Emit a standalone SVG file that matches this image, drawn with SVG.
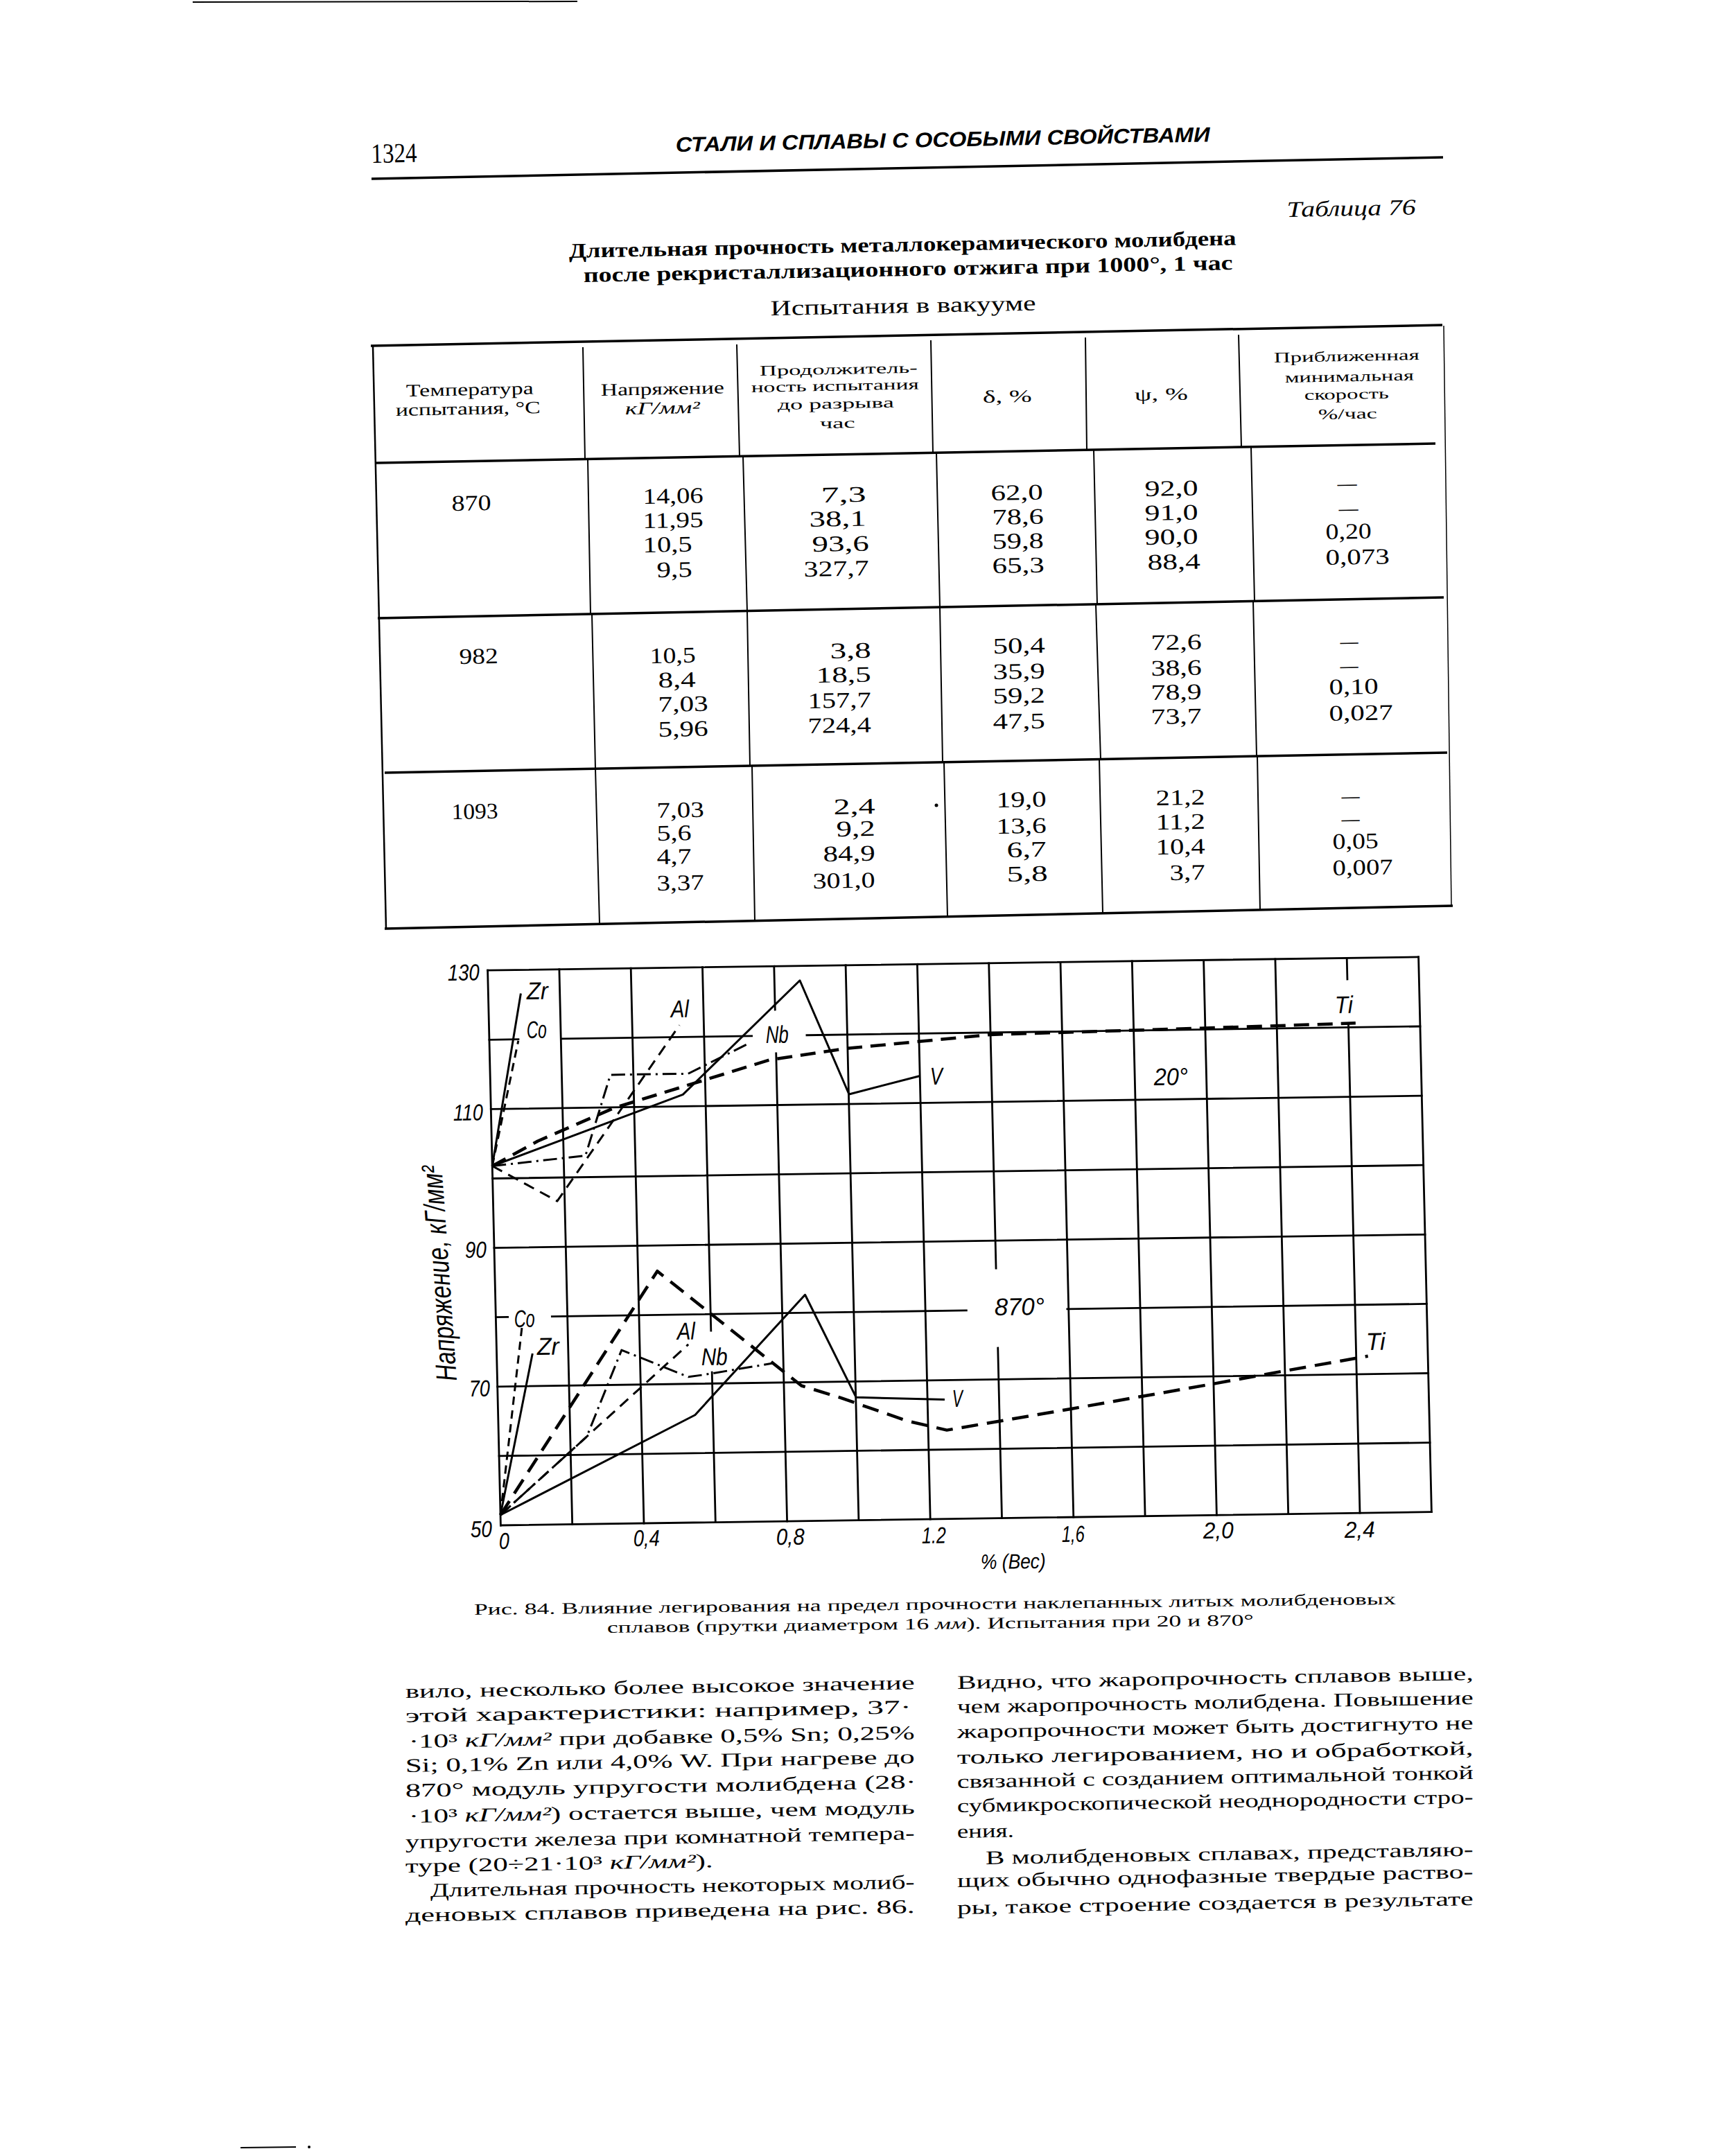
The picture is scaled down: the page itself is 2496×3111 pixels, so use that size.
<svg xmlns="http://www.w3.org/2000/svg" width="2496" height="3111" viewBox="0 0 2496 3111">
<style>
.se{font-family:"Liberation Serif","DejaVu Serif",serif;fill:#000}
.sa{font-family:"Liberation Sans","DejaVu Sans",sans-serif;fill:#000}
.it{font-style:italic}
.bd{font-weight:bold}
.r11{transform-box:fill-box;transform-origin:0% 100%;transform:rotate(-1.1deg)}
.r10{transform-box:fill-box;transform-origin:0% 100%;transform:rotate(-1deg)}
.r08{transform-box:fill-box;transform-origin:0% 100%;transform:rotate(-0.82deg)}
.r07{transform-box:fill-box;transform-origin:0% 100%;transform:rotate(-0.65deg)}
.n{font-size:32px}
.h{font-size:25px}
.hs{font-size:21px}
.b{font-size:28px}
.c{font-size:23px}
.lb{font-size:35px}
.tk{font-size:33px}
.ln{stroke:#000;fill:none}
.tb{stroke-width:3.5}
.tv{stroke-width:2}
.gr{stroke-width:2.8;stroke-linecap:square}
.cv{stroke-width:3;stroke-linejoin:round}
.ti{stroke-width:4.5}
.d1{stroke-dasharray:16 10}
.d2{stroke-dasharray:12 8}
.d3{stroke-dasharray:24 13}
.dd{stroke-dasharray:20 7 3 7}
</style>
<rect width="2496" height="3111" fill="#fff"/>

<g id="scan-marks">
<line class="ln" stroke-width="2" x1="278" y1="3" x2="833" y2="2"/>
<line class="ln" stroke-width="2" x1="347" y1="3099" x2="427" y2="3098"/>
<circle cx="446" cy="3098" r="2"/>
</g>

<g id="page-header">
<text class="se r11" x="536" y="235" font-size="40" textLength="66" lengthAdjust="spacingAndGlyphs">1324</text>
<text class="sa it bd r11" x="975" y="219" font-size="30" textLength="771" lengthAdjust="spacingAndGlyphs">СТАЛИ И СПЛАВЫ С ОСОБЫМИ СВОЙСТВАМИ</text>
<line class="ln tb" x1="536" y1="258" x2="2082" y2="227"/>
<text class="se it r11" x="1857" y="313" font-size="32" textLength="186" lengthAdjust="spacingAndGlyphs">Таблица 76</text>
<text class="se bd r11" x="821" y="372" font-size="30" textLength="963" lengthAdjust="spacingAndGlyphs">Длительная прочность металлокерамического молибдена</text>
<text class="se bd r11" x="842" y="407" font-size="30" textLength="937" lengthAdjust="spacingAndGlyphs">после рекристаллизационного отжига при 1000°, 1 час</text>
<text class="se r11" x="1112" y="455" font-size="31" textLength="383" lengthAdjust="spacingAndGlyphs">Испытания в вакууме</text>
</g>

<g id="table-rules">
<line class="ln tb" x1="535" y1="499" x2="2081" y2="469"/>
<line class="ln tb" x1="542" y1="668" x2="2071" y2="640"/>
<line class="ln tb" x1="545" y1="892" x2="2083" y2="862"/>
<line class="ln tb" x1="555" y1="1115" x2="2088" y2="1086"/>
<line class="ln tb" x1="555" y1="1340" x2="2096" y2="1307"/>
<line class="ln" stroke-width="2.5" x1="538" y1="499" x2="557" y2="1340"/>
<line class="ln" stroke-width="1.5" x1="2083" y1="470" x2="2094" y2="1307"/>
<path class="ln tv" d="M841,501L844,662M848,662L852,886M854,886L859,1109M859,1109L865,1333
M1063,497L1067,658M1072,658L1078,882M1078,882L1082,1105M1085,1105L1089,1328
M1343,491L1346,653M1351,653L1356,876M1356,876L1360,1100M1362,1100L1367,1322
M1566,487L1568,649M1578,649L1583,872M1581,872L1588,1096M1586,1096L1591,1317
M1787,483L1791,645M1805,645L1810,867M1808,867L1813,1091M1814,1091L1818,1313"/>
<circle cx="1351" cy="1162" r="2.5"/>
</g>

<g id="table-head">
<text class="se h r11" x="586" y="572" textLength="184" lengthAdjust="spacingAndGlyphs">Температура</text>
<text class="se h r11" x="571" y="600" textLength="209" lengthAdjust="spacingAndGlyphs">испытания, °С</text>
<text class="se h r11" x="867" y="571" textLength="178" lengthAdjust="spacingAndGlyphs">Напряжение</text>
<text class="se h it r11" x="902" y="598" textLength="108" lengthAdjust="spacingAndGlyphs">кГ/мм²</text>
<text class="se hs r11" x="1096" y="542" textLength="228" lengthAdjust="spacingAndGlyphs">Продолжитель-</text>
<text class="se hs r11" x="1084" y="566" textLength="242" lengthAdjust="spacingAndGlyphs">ность испытания</text>
<text class="se hs r11" x="1122" y="591" textLength="168" lengthAdjust="spacingAndGlyphs">до разрыва</text>
<text class="se hs r11" x="1183" y="618" textLength="51" lengthAdjust="spacingAndGlyphs">час</text>
<text class="se h r11" x="1418" y="581" textLength="71" lengthAdjust="spacingAndGlyphs">δ, %</text>
<text class="se h r11" x="1637" y="578" textLength="77" lengthAdjust="spacingAndGlyphs">ψ, %</text>
<text class="se hs r11" x="1838" y="523" textLength="210" lengthAdjust="spacingAndGlyphs">Приближенная</text>
<text class="se hs r11" x="1854" y="552" textLength="186" lengthAdjust="spacingAndGlyphs">минимальная</text>
<text class="se hs r11" x="1882" y="577" textLength="122" lengthAdjust="spacingAndGlyphs">скорость</text>
<text class="se hs r11" x="1902" y="605" textLength="85" lengthAdjust="spacingAndGlyphs">%/час</text>
</g>

<g id="table-row-870">
<text class="se n r11" x="652" y="737" textLength="57" lengthAdjust="spacingAndGlyphs">870</text>
<text class="se n r11" x="928" y="727" textLength="87" lengthAdjust="spacingAndGlyphs">14,06</text>
<text class="se n r11" x="928" y="762" textLength="87" lengthAdjust="spacingAndGlyphs">11,95</text>
<text class="se n r11" x="928" y="797" textLength="71" lengthAdjust="spacingAndGlyphs">10,5</text>
<text class="se n r11" x="948" y="833" textLength="51" lengthAdjust="spacingAndGlyphs">9,5</text>
<text class="se n r11" x="1185" y="725" textLength="65" lengthAdjust="spacingAndGlyphs">7,3</text>
<text class="se n r11" x="1168" y="760" textLength="82" lengthAdjust="spacingAndGlyphs">38,1</text>
<text class="se n r11" x="1172" y="796" textLength="82" lengthAdjust="spacingAndGlyphs">93,6</text>
<text class="se n r11" x="1160" y="832" textLength="94" lengthAdjust="spacingAndGlyphs">327,7</text>
<text class="se n r11" x="1430" y="722" textLength="75" lengthAdjust="spacingAndGlyphs">62,0</text>
<text class="se n r11" x="1432" y="757" textLength="74" lengthAdjust="spacingAndGlyphs">78,6</text>
<text class="se n r11" x="1432" y="792" textLength="74" lengthAdjust="spacingAndGlyphs">59,8</text>
<text class="se n r11" x="1432" y="827" textLength="75" lengthAdjust="spacingAndGlyphs">65,3</text>
<text class="se n r11" x="1652" y="716" textLength="77" lengthAdjust="spacingAndGlyphs">92,0</text>
<text class="se n r11" x="1652" y="751" textLength="77" lengthAdjust="spacingAndGlyphs">91,0</text>
<text class="se n r11" x="1652" y="786" textLength="77" lengthAdjust="spacingAndGlyphs">90,0</text>
<text class="se n r11" x="1656" y="822" textLength="76" lengthAdjust="spacingAndGlyphs">88,4</text>
<text class="se n r11" x="1930" y="708" textLength="28" lengthAdjust="spacingAndGlyphs">—</text>
<text class="se n r11" x="1932" y="744" textLength="28" lengthAdjust="spacingAndGlyphs">—</text>
<text class="se n r11" x="1913" y="778" textLength="66" lengthAdjust="spacingAndGlyphs">0,20</text>
<text class="se n r11" x="1913" y="815" textLength="92" lengthAdjust="spacingAndGlyphs">0,073</text>
</g>

<g id="table-row-982">
<text class="se n r11" x="663" y="958" textLength="56" lengthAdjust="spacingAndGlyphs">982</text>
<text class="se n r11" x="938" y="957" textLength="66" lengthAdjust="spacingAndGlyphs">10,5</text>
<text class="se n r11" x="950" y="992" textLength="54" lengthAdjust="spacingAndGlyphs">8,4</text>
<text class="se n r11" x="950" y="1027" textLength="72" lengthAdjust="spacingAndGlyphs">7,03</text>
<text class="se n r11" x="950" y="1063" textLength="72" lengthAdjust="spacingAndGlyphs">5,96</text>
<text class="se n r11" x="1198" y="950" textLength="59" lengthAdjust="spacingAndGlyphs">3,8</text>
<text class="se n r11" x="1178" y="985" textLength="79" lengthAdjust="spacingAndGlyphs">18,5</text>
<text class="se n r11" x="1166" y="1022" textLength="91" lengthAdjust="spacingAndGlyphs">157,7</text>
<text class="se n r11" x="1166" y="1058" textLength="91" lengthAdjust="spacingAndGlyphs">724,4</text>
<text class="se n r11" x="1433" y="943" textLength="75" lengthAdjust="spacingAndGlyphs">50,4</text>
<text class="se n r11" x="1433" y="980" textLength="75" lengthAdjust="spacingAndGlyphs">35,9</text>
<text class="se n r11" x="1433" y="1015" textLength="75" lengthAdjust="spacingAndGlyphs">59,2</text>
<text class="se n r11" x="1433" y="1052" textLength="75" lengthAdjust="spacingAndGlyphs">47,5</text>
<text class="se n r11" x="1661" y="938" textLength="73" lengthAdjust="spacingAndGlyphs">72,6</text>
<text class="se n r11" x="1661" y="975" textLength="73" lengthAdjust="spacingAndGlyphs">38,6</text>
<text class="se n r11" x="1661" y="1010" textLength="73" lengthAdjust="spacingAndGlyphs">78,9</text>
<text class="se n r11" x="1661" y="1045" textLength="73" lengthAdjust="spacingAndGlyphs">73,7</text>
<text class="se n r11" x="1934" y="936" textLength="26" lengthAdjust="spacingAndGlyphs">—</text>
<text class="se n r11" x="1934" y="971" textLength="26" lengthAdjust="spacingAndGlyphs">—</text>
<text class="se n r11" x="1918" y="1002" textLength="71" lengthAdjust="spacingAndGlyphs">0,10</text>
<text class="se n r11" x="1918" y="1040" textLength="92" lengthAdjust="spacingAndGlyphs">0,027</text>
</g>

<g id="table-row-1093">
<text class="se n r11" x="652" y="1182" textLength="67" lengthAdjust="spacingAndGlyphs">1093</text>
<text class="se n r11" x="948" y="1180" textLength="68" lengthAdjust="spacingAndGlyphs">7,03</text>
<text class="se n r11" x="948" y="1213" textLength="50" lengthAdjust="spacingAndGlyphs">5,6</text>
<text class="se n r11" x="948" y="1247" textLength="50" lengthAdjust="spacingAndGlyphs">4,7</text>
<text class="se n r11" x="948" y="1285" textLength="68" lengthAdjust="spacingAndGlyphs">3,37</text>
<text class="se n r11" x="1203" y="1175" textLength="60" lengthAdjust="spacingAndGlyphs">2,4</text>
<text class="se n r11" x="1207" y="1207" textLength="56" lengthAdjust="spacingAndGlyphs">9,2</text>
<text class="se n r11" x="1188" y="1243" textLength="75" lengthAdjust="spacingAndGlyphs">84,9</text>
<text class="se n r11" x="1173" y="1282" textLength="90" lengthAdjust="spacingAndGlyphs">301,0</text>
<text class="se n r11" x="1438" y="1165" textLength="72" lengthAdjust="spacingAndGlyphs">19,0</text>
<text class="se n r11" x="1438" y="1203" textLength="72" lengthAdjust="spacingAndGlyphs">13,6</text>
<text class="se n r11" x="1453" y="1237" textLength="57" lengthAdjust="spacingAndGlyphs">6,7</text>
<text class="se n r11" x="1453" y="1272" textLength="59" lengthAdjust="spacingAndGlyphs">5,8</text>
<text class="se n r11" x="1668" y="1162" textLength="71" lengthAdjust="spacingAndGlyphs">21,2</text>
<text class="se n r11" x="1668" y="1197" textLength="71" lengthAdjust="spacingAndGlyphs">11,2</text>
<text class="se n r11" x="1668" y="1233" textLength="71" lengthAdjust="spacingAndGlyphs">10,4</text>
<text class="se n r11" x="1688" y="1270" textLength="51" lengthAdjust="spacingAndGlyphs">3,7</text>
<text class="se n r11" x="1936" y="1159" textLength="26" lengthAdjust="spacingAndGlyphs">—</text>
<text class="se n r11" x="1936" y="1192" textLength="26" lengthAdjust="spacingAndGlyphs">—</text>
<text class="se n r11" x="1923" y="1225" textLength="66" lengthAdjust="spacingAndGlyphs">0,05</text>
<text class="se n r11" x="1923" y="1263" textLength="87" lengthAdjust="spacingAndGlyphs">0,007</text>
</g>

<g id="chart">
<g id="chart-plot" transform="matrix(1,-0.01437,0.02348,1,722.4,2201)">
<g id="grid">
<path class="ln gr" d="M0,0H1343M0,-100.1H1343M0,-200.2H1343M0,-300.3H17.3M81,-300.3H679M824.5,-300.3H1343M0,-400.4H1343M0,-500.5H1343M0,-600.6H1343M0,-700.7H42M104,-700.7H378.7M458,-700.7H1343M0,-800.8H1343"/>
<path class="ln gr" d="M0,0V-800.8M103.3,0V-800.8M206.6,0V-800.8M309.9,0V-216.5M309.9,-276.5V-800.8M413.2,0V-675.1M413.2,-738.1V-800.8M516.5,0V-800.8M619.8,0V-800.8M723.1,0V-245.6M723.1,-360.6V-800.8M826.4,0V-800.8M929.7,0V-800.8M1033,0V-800.8M1136.3,0V-800.8M1239.6,0V-706.2M1239.6,-770.2V-800.8M1343,0V-800.8"/>
</g>
<g id="curves-20">
<path id="zr20" class="ln cv" d="M0,-518.5L47,-766.8"/>
<path id="co20" class="ln cv d2" d="M0,-518.5L41.8,-698.7"/>
<path id="al20" class="ln cv d1" d="M0,-518.5L92.5,-466.5L274.8,-717.7"/>
<path id="nb20" class="ln cv dd" d="M0,-518.5L134.8,-531.5L173.5,-647.6L285.6,-647.6L373.4,-689.7"/>
<path id="v20" class="ln cv" d="M0,-518.5L277.4,-617.6L449.9,-779.8L517,-614.6L619.8,-639.6"/>
<path id="ti20" class="ln cv ti" stroke-dasharray="22 12" d="M0,-518.5L66.6,-553.6L177.2,-599.6L403.4,-665.7L513.9,-680.7L723.1,-697.7L1033,-702.7L1250,-706.7"/>
</g>
<g id="curves-870">
<path id="co870" class="ln cv d2" d="M0,-15L37.2,-284.3"/>
<path id="zr870" class="ln cv" d="M0,-15L51.7,-247.2"/>
<path id="ti870" class="ln cv ti d3" d="M0,-15L234.5,-363.4L398.2,-228.2L438.5,-195.2L493.8,-177.2L590.4,-142.1L646.7,-128.1L826.4,-156.2L1031.5,-189.2L1133.7,-206.2L1256.6,-226.2"/>
<path id="al870" class="ln cv d1" d="M0,-15L276.8,-257.2"/>
<path id="nb870" class="ln cv dd" d="M0,-15L127.1,-126.1L180.3,-250.3L275.8,-210.2L299.6,-213.2L398.2,-228.2"/>
<path id="v870" class="ln cv" d="M0,-15L284.1,-155.2L446.8,-326.3L517,-177.2L644.6,-172.2"/>
</g>
</g>
<g id="chart-labels">
<text class="sa it lb r08" x="760" y="1442" textLength="31" lengthAdjust="spacingAndGlyphs">Zr</text>
<text class="sa it lb r08" x="760" y="1498" textLength="29" lengthAdjust="spacingAndGlyphs">Co</text>
<text class="sa it lb r08" x="968" y="1468" textLength="26" lengthAdjust="spacingAndGlyphs">Al</text>
<text class="sa it lb r08" x="1105" y="1505" textLength="33" lengthAdjust="spacingAndGlyphs">Nb</text>
<text class="sa it lb r08" x="1342" y="1565" textLength="18" lengthAdjust="spacingAndGlyphs">V</text>
<text class="sa it lb r08" x="1926" y="1462" textLength="26" lengthAdjust="spacingAndGlyphs">Ti</text>
<text class="sa it lb r08" x="1665" y="1566" textLength="49" lengthAdjust="spacingAndGlyphs">20°</text>
<text class="sa it lb r08" x="742" y="1915" textLength="30" lengthAdjust="spacingAndGlyphs">Co</text>
<text class="sa it lb r08" x="775" y="1955" textLength="32" lengthAdjust="spacingAndGlyphs">Zr</text>
<text class="sa it lb r08" x="977" y="1933" textLength="26" lengthAdjust="spacingAndGlyphs">Al</text>
<text class="sa it lb r08" x="1012" y="1970" textLength="38" lengthAdjust="spacingAndGlyphs">Nb</text>
<text class="sa it lb r08" x="1435" y="1898" textLength="72" lengthAdjust="spacingAndGlyphs">870°</text>
<text class="sa it lb r08" x="1374" y="2030" textLength="15" lengthAdjust="spacingAndGlyphs">V</text>
<text class="sa it lb r08" x="1971" y="1948" textLength="28" lengthAdjust="spacingAndGlyphs">Ti</text>
<text class="sa it tk r08" x="646" y="1415" textLength="46" lengthAdjust="spacingAndGlyphs">130</text>
<text class="sa it tk r08" x="654" y="1617" textLength="43" lengthAdjust="spacingAndGlyphs">110</text>
<text class="sa it tk r08" x="671" y="1815" textLength="31" lengthAdjust="spacingAndGlyphs">90</text>
<text class="sa it tk r08" x="677" y="2015" textLength="30" lengthAdjust="spacingAndGlyphs">70</text>
<text class="sa it tk r08" x="679" y="2218" textLength="31" lengthAdjust="spacingAndGlyphs">50</text>
<text class="sa it tk r08" x="720" y="2235" textLength="15" lengthAdjust="spacingAndGlyphs">0</text>
<text class="sa it tk r08" x="914" y="2231" textLength="38" lengthAdjust="spacingAndGlyphs">0,4</text>
<text class="sa it tk r08" x="1120" y="2229" textLength="41" lengthAdjust="spacingAndGlyphs">0,8</text>
<text class="sa it tk r08" x="1330" y="2227" textLength="35" lengthAdjust="spacingAndGlyphs">1.2</text>
<text class="sa it tk r08" x="1532" y="2225" textLength="33" lengthAdjust="spacingAndGlyphs">1,6</text>
<text class="sa it tk r08" x="1736" y="2220" textLength="44" lengthAdjust="spacingAndGlyphs">2,0</text>
<text class="sa it tk r08" x="1940" y="2219" textLength="44" lengthAdjust="spacingAndGlyphs">2,4</text>
<text class="sa it r08" font-size="30" x="1415" y="2264" textLength="94" lengthAdjust="spacingAndGlyphs">% (Вес)</text>
<text class="sa it" font-size="42" x="659" y="1992" transform="rotate(-94 659 1992)" textLength="312" lengthAdjust="spacingAndGlyphs">Напряжение, кГ/мм²</text>
</g>
</g>

<g id="caption">
<text class="se c r07" x="684" y="2330" textLength="1330" lengthAdjust="spacingAndGlyphs">Рис. 84. Влияние легирования на предел прочности наклепанных литых молибденовых</text>
<text class="se c r07" x="876" y="2356" textLength="933" lengthAdjust="spacingAndGlyphs">сплавов (прутки диаметром 16 <tspan class="it">мм</tspan>). Испытания при 20 и 870°</text>
</g>

<g id="body-left">
<text class="se b r10" x="585" y="2450" textLength="735" lengthAdjust="spacingAndGlyphs">вило, несколько более высокое значение</text>
<text class="se b r10" x="585" y="2485" textLength="730" lengthAdjust="spacingAndGlyphs">этой характеристики: например, 37·</text>
<text class="se b r10" x="590" y="2522" textLength="730" lengthAdjust="spacingAndGlyphs">·10³ <tspan class="it">кГ/мм²</tspan> при добавке 0,5% Sn; 0,25%</text>
<text class="se b r10" x="585" y="2557" textLength="735" lengthAdjust="spacingAndGlyphs">Si; 0,1% Zn или 4,0% W. При нагреве до</text>
<text class="se b r10" x="585" y="2593" textLength="737" lengthAdjust="spacingAndGlyphs">870° модуль упругости молибдена (28·</text>
<text class="se b r10" x="590" y="2630" textLength="730" lengthAdjust="spacingAndGlyphs">·10³ <tspan class="it">кГ/мм²</tspan>) остается выше, чем модуль</text>
<text class="se b r10" x="585" y="2667" textLength="735" lengthAdjust="spacingAndGlyphs">упругости железа при комнатной темпера-</text>
<text class="se b r10" x="585" y="2702" textLength="444" lengthAdjust="spacingAndGlyphs">туре (20÷21·10³ <tspan class="it">кГ/мм²</tspan>).</text>
<text class="se b r10" x="621" y="2737" textLength="699" lengthAdjust="spacingAndGlyphs">Длительная прочность некоторых молиб-</text>
<text class="se b r10" x="585" y="2773" textLength="735" lengthAdjust="spacingAndGlyphs">деновых сплавов приведена на рис. 86.</text>
</g>

<g id="body-right">
<text class="se b r10" x="1381" y="2437" textLength="745" lengthAdjust="spacingAndGlyphs">Видно, что жаропрочность сплавов выше,</text>
<text class="se b r10" x="1381" y="2472" textLength="745" lengthAdjust="spacingAndGlyphs">чем жаропрочность молибдена. Повышение</text>
<text class="se b r10" x="1381" y="2508" textLength="745" lengthAdjust="spacingAndGlyphs">жаропрочности может быть достигнуто не</text>
<text class="se b r10" x="1381" y="2545" textLength="745" lengthAdjust="spacingAndGlyphs">только легированием, но и обработкой,</text>
<text class="se b r10" x="1381" y="2580" textLength="745" lengthAdjust="spacingAndGlyphs">связанной с созданием оптимальной тонкой</text>
<text class="se b r10" x="1381" y="2615" textLength="745" lengthAdjust="spacingAndGlyphs">субмикроскопической неоднородности стро-</text>
<text class="se b r10" x="1381" y="2652" textLength="82" lengthAdjust="spacingAndGlyphs">ения.</text>
<text class="se b r10" x="1422" y="2690" textLength="704" lengthAdjust="spacingAndGlyphs">В молибденовых сплавах, представляю-</text>
<text class="se b r10" x="1381" y="2723" textLength="745" lengthAdjust="spacingAndGlyphs">щих обычно однофазные твердые раство-</text>
<text class="se b r10" x="1381" y="2762" textLength="745" lengthAdjust="spacingAndGlyphs">ры, такое строение создается в результате</text>
</g>
</svg>
